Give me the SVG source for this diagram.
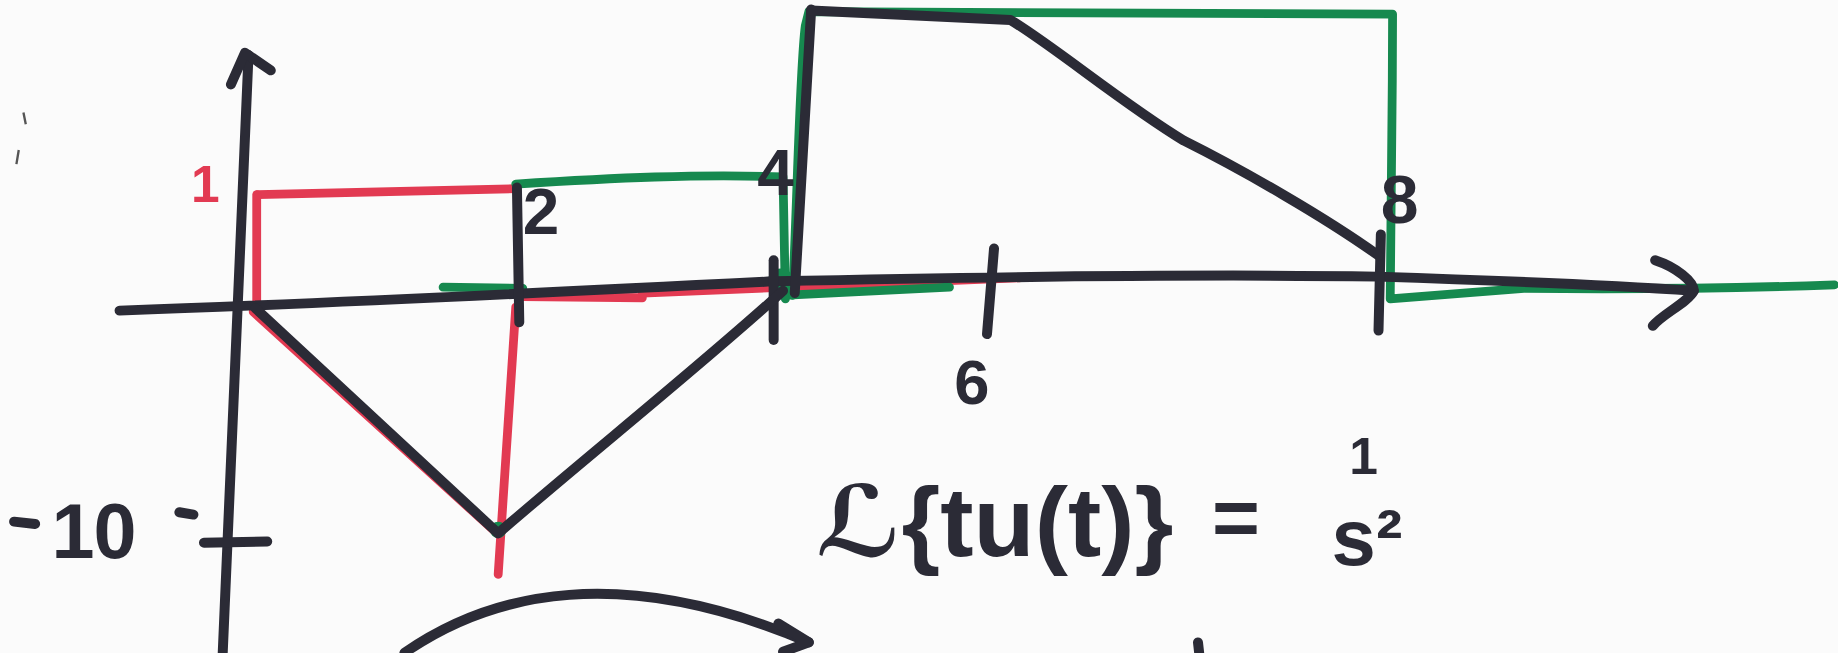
<svg xmlns="http://www.w3.org/2000/svg" width="1838" height="653" viewBox="0 0 1838 653">
<style>
.k{fill:none;stroke:#2b2b36;stroke-width:8.5;stroke-linecap:round;stroke-linejoin:round}
.r{fill:none;stroke:#e23a52;stroke-width:7.5;stroke-linecap:round;stroke-linejoin:round}
.g{fill:none;stroke:#16894f;stroke-width:7.5;stroke-linecap:round;stroke-linejoin:round}
.t{font-family:"Liberation Sans","DejaVu Sans",sans-serif;fill:#2b2b36;font-weight:bold}
</style>
<rect width="1838" height="653" fill="#fbfbfb"/>
<g transform="scale(1.1722)">
<g id="red-curves">
<path class="r" d="M220,166 L440,161"/>
<path class="r" d="M219,166 L219,262"/>
<path class="r" d="M446,253 L548,254"/>
<path class="r" d="M548,250 L870,237"/>
<path class="r" d="M440,262 L425,490"/>
<path class="r" d="M216,266 L424,455"/>
</g>
<g id="green-curves">
<path class="g" d="M440,157 C520,152 600,148 668,151 L670,255"/>
<path class="g" d="M378,245 L446,246"/>
<path class="g" d="M668,252 L810,245"/>
<path class="g" d="M676,252 C680,180 682,60 687,22 L690,10 L1188,12 C1188,100 1186,200 1186,255 L1300,246 C1400,247 1480,246 1565,243"/>
<circle cx="666" cy="240" r="11" fill="#16894f"/>
<circle cx="425" cy="452" r="7" fill="#16894f"/>
</g>
<g id="axes">
<path class="k" d="M212,47 L190,557"/>
<path class="k" d="M197,72 L209,45 L231,60"/>
<path class="k" d="M102,265 C300,258 500,248 660,240 C850,236 1050,234 1175,236 C1300,240 1400,245 1445,248"/>
<path class="k" d="M1412,222 C1430,228 1445,240 1445,248 C1440,258 1418,268 1410,278"/>
<path class="k" d="M174,463 L228,462"/>
<path class="k" d="M441,160 L443,275"/>
<path class="k" d="M660,222 L660,290"/>
<path class="k" d="M848,212 L842,285"/>
<path class="k" d="M1178,200 L1176,282"/>
</g>
<g id="black-curve">
<path class="k" d="M218,263 L425,455 C500,390 600,310 668,248"/>
<path class="k" d="M692,8 L678,250"/>
<path class="k" d="M692,9 L862,17 C900,40 960,90 1010,120 C1060,145 1130,185 1176,218"/>
</g>
<g id="labels">
<text class="t" x="163" y="172" font-size="44" style="fill:#e23a52">1</text>
<text class="t" x="446" y="200" font-size="56">2</text>
<text class="t" x="646" y="166" font-size="56">4</text>
<text class="t" x="814" y="345" font-size="54">6</text>
<text class="t" x="1178" y="190" font-size="58">8</text>
<path class="k" d="M12,445 L30,447" stroke-width="7"/>
<text class="t" x="44" y="476" font-size="66" letter-spacing="-1">10</text>
<path class="k" d="M153,437 L165,439" stroke-width="5"/>
<text class="t" x="696" y="474" font-size="84" textLength="305" lengthAdjust="spacingAndGlyphs">ℒ{tu(t)}</text>
<text class="t" x="1034" y="466" font-size="70">=</text>
<text class="t" x="1151" y="404" font-size="44">1</text>
<text class="t" x="1136" y="482" font-size="68">s²</text>
</g>
<g id="bottom-arrow">
<path class="k" d="M345,557 C420,505 530,480 690,548"/>
<path class="k" d="M664,532 L690,548 L668,556"/>
<path class="k" d="M1022,548 L1023,557"/>
</g>
<path d="M20,96 L22,106 M16,128 L14,140" stroke="#555" stroke-width="2" fill="none"/>
</g>
</svg>
